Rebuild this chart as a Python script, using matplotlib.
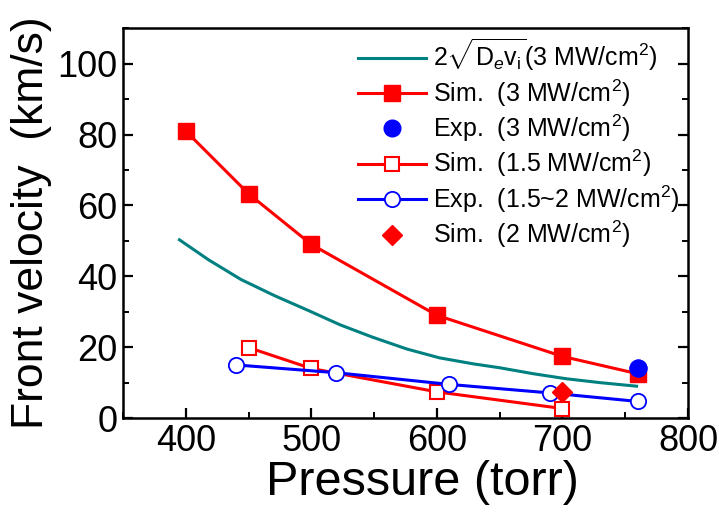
import matplotlib
matplotlib.use("Agg")
import matplotlib.pyplot as plt
from matplotlib.ticker import MultipleLocator

plt.rcParams['font.family'] = ['Liberation Sans', 'DejaVu Sans']
plt.rcParams['mathtext.fontset'] = 'custom'
plt.rcParams['mathtext.rm'] = 'Liberation Sans'
plt.rcParams['mathtext.it'] = 'Liberation Sans:italic'
plt.rcParams['mathtext.bf'] = 'Liberation Sans:bold'

# Theory curve 2*sqrt(De*vi) (3 MW/cm2)
theory_p = [395, 418, 444, 471, 498, 523, 549, 576, 602, 629, 650, 677, 703, 730, 759]
theory_v = [50.3, 44.7, 39.1, 34.5, 30.3, 26.3, 22.8, 19.5, 17.0, 15.3, 14.2, 12.5, 11.1, 10.0, 9.0]

# Simulation 3 MW/cm2
sim3_p = [400, 450, 500, 600, 700, 760]
sim3_v = [81, 63.3, 49, 29, 17.4, 12.5]

# Experiment 3 MW/cm2
exp3_p = [760]
exp3_v = [14.2]

# Simulation 1.5 MW/cm2
sim15_p = [450, 500, 600, 700]
sim15_v = [19.9, 14.0, 7.4, 2.7]

# Experiment 1.5~2 MW/cm2
exp15_p = [440, 520, 610, 690, 760]
exp15_v = [15.0, 12.8, 9.5, 7.1, 4.7]

# Simulation 2 MW/cm2
sim2_p = [700]
sim2_v = [7.3]

labels = [
    r'$2\sqrt{\mathrm{D}_{e}\mathrm{v}_{\mathrm{i}}}$(3 MW/cm$^{2}$)',
    r'Sim.  (3 MW/cm$^{2}$)',
    r'Exp.  (3 MW/cm$^{2}$)',
    r'Sim.  (1.5 MW/cm$^{2}$)',
    r'Exp.  (1.5~2 MW/cm$^{2}$)',
    r'Sim.  (2 MW/cm$^{2}$)',
]

fig = plt.figure(figsize=(7.19, 5.13), dpi=100)
ax = fig.add_axes([0.171, 0.185, 0.786, 0.760])

red = '#ff0000'
blue = '#0000ff'
teal = '#008080'

ax.plot(theory_p, theory_v, color=teal, lw=2.2, label=labels[0])
ax.plot(sim3_p, sim3_v, color=red, lw=2.2, marker='s', ms=11, mfc=red, mec=red, label=labels[1])
ax.plot(exp3_p, exp3_v, ls='none', marker='o', ms=12, mfc=blue, mec=blue, label=labels[2])
ax.plot(sim15_p, sim15_v, color=red, lw=2.2, marker='s', ms=10.5, mfc='white', mec=red, mew=1.5, label=labels[3])
ax.plot(exp15_p, exp15_v, color=blue, lw=2.2, marker='o', ms=11, mfc='white', mec=blue, mew=1.3, label=labels[4])
ax.plot(sim2_p, sim2_v, ls='none', marker='D', ms=10.5, mfc=red, mec=red, label=labels[5])

# Blue filled circle drawn above the red square
ax.plot(exp3_p, exp3_v, ls='none', marker='o', ms=12, mfc=blue, mec=blue, zorder=5)

ax.set_xlim(350, 800)
ax.set_ylim(0, 110)
ax.xaxis.set_major_locator(MultipleLocator(100))
ax.xaxis.set_minor_locator(MultipleLocator(50))
ax.yaxis.set_major_locator(MultipleLocator(20))
ax.yaxis.set_minor_locator(MultipleLocator(10))

for s in ax.spines.values():
    s.set_linewidth(1.8)

ax.tick_params(axis='both', which='major', direction='in', length=7, width=1.6,
               labelsize=26, top=False, right=True)
ax.tick_params(axis='both', which='minor', direction='in', length=4.5, width=1.4,
               top=False, right=True)
ax.tick_params(axis='y', which='major', pad=4)
ax.tick_params(axis='x', which='major', pad=4)

ax.set_xlabel('Pressure (torr)', fontsize=35, labelpad=0)
ax.xaxis.set_label_coords(0.53, -0.108)
ax.set_ylabel('Front velocity  (km/s)', fontsize=32, labelpad=4)

leg = ax.legend(loc='upper right', bbox_to_anchor=(1.0, 1.0), frameon=False,
                fontsize=18, handlelength=2.7, handletextpad=0.28,
                labelspacing=0.16, borderaxespad=0.0, borderpad=0.35, numpoints=1)

fig.savefig('out.png', dpi=100)
